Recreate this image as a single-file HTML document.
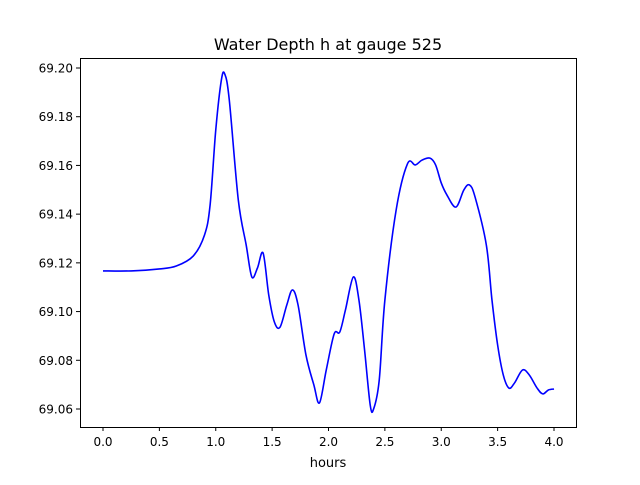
<!DOCTYPE html>
<html><head><meta charset="utf-8"><style>
body{margin:0;background:#fff;font-family:"Liberation Sans","DejaVu Sans",sans-serif}
text{font-family:"DejaVu Sans","Liberation Sans",sans-serif}
</style></head><body>
<svg id="chart" width="640" height="480">
<rect width="640" height="480" fill="#fff"/>
<text x="328" y="50" font-size="16" text-anchor="middle">Water Depth h at gauge 525</text>
<g id="ticks"></g>
<path id="line" fill="none" stroke="#0000ff" stroke-width="1.6"/>
<rect x="80.5" y="58.5" width="496" height="369" fill="none" stroke="#000" stroke-width="1"/>
<text x="328" y="467" font-size="13" text-anchor="middle">hours</text>
</svg>
<script>
const hours=[0,0.25,0.5,0.65,0.8,0.9,0.95,1.0,1.05,1.08,1.12,1.2,1.27,1.32,1.37,1.42,1.47,1.52,1.57,1.63,1.68,1.73,1.8,1.87,1.92,1.98,2.05,2.1,2.15,2.22,2.27,2.32,2.37,2.4,2.45,2.5,2.6,2.7,2.77,2.83,2.9,2.95,3.0,3.05,3.13,3.2,3.25,3.3,3.4,3.45,3.5,3.55,3.6,3.65,3.72,3.78,3.85,3.9,3.95,4.0];
const depth=[69.1167,69.1167,69.1175,69.1187,69.1228,69.1314,69.1438,69.1745,69.1951,69.1975,69.1869,69.1458,69.1273,69.1142,69.1179,69.1240,69.1068,69.0957,69.0936,69.1027,69.1089,69.1027,69.0822,69.0699,69.0625,69.0760,69.0908,69.0916,69.1006,69.1142,69.1047,69.0842,69.0616,69.0600,69.0719,69.1047,69.1417,69.1606,69.1602,69.1622,69.1630,69.1602,69.1528,69.1479,69.1429,69.1499,69.1520,69.1470,69.1273,69.1047,69.0863,69.0740,69.0686,69.0707,69.0760,69.0740,69.0686,69.0662,69.0678,69.0682];
const xTicks=[0,0.5,1,1.5,2,2.5,3,3.5,4];
const xTickLabels=["0.0","0.5","1.0","1.5","2.0","2.5","3.0","3.5","4.0"];
const yTicks=[69.06,69.08,69.10,69.12,69.14,69.16,69.18,69.20];
const yTickLabels=["69.06","69.08","69.10","69.12","69.14","69.16","69.18","69.20"];
const X=v=>103+v*112.75;
const Y=v=>68+(69.20-v)*2435.7;
const NS="http://www.w3.org/2000/svg";
const g=document.getElementById('ticks');
function mk(t,a){const e=document.createElementNS(NS,t);for(const k in a)e.setAttribute(k,a[k]);g.appendChild(e);return e;}
xTicks.forEach((v,i)=>{
 const l=mk('line',{x1:X(v),x2:X(v),y1:427,y2:431,stroke:'#000'});
 
 
 const t=mk('text',{x:X(v),y:446,'font-size':12,'text-anchor':'middle'});t.textContent=xTickLabels[i];
 
 
});
yTicks.forEach((v,i)=>{
 const l=mk('line',{x1:76,x2:80,y1:Y(v),y2:Y(v),stroke:'#000'});
 
 
 const t=mk('text',{x:73,y:Y(v)+4.5,'font-size':12,'text-anchor':'end'});t.textContent=yTickLabels[i];
 
 
});
const P=hours.map((h,i)=>[X(h),Y(depth[i])]);
let d='M'+P[0][0]+','+P[0][1];
for(let i=0;i<P.length-1;i++){
 const p0=P[Math.max(0,i-1)],p1=P[i],p2=P[i+1],p3=P[Math.min(P.length-1,i+2)];
 const c1=[p1[0]+(p2[0]-p0[0])/6,p1[1]+(p2[1]-p0[1])/6];
 const c2=[p2[0]-(p3[0]-p1[0])/6,p2[1]-(p3[1]-p1[1])/6];
 d+=`C${c1[0]},${c1[1]} ${c2[0]},${c2[1]} ${p2[0]},${p2[1]}`;
}
document.getElementById('line').setAttribute('d',d);
</script>
</body></html>
